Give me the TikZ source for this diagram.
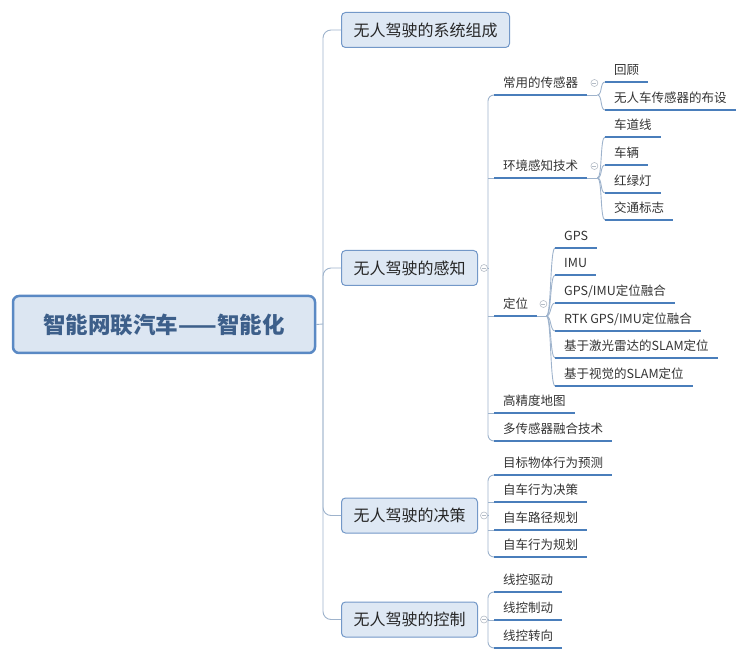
\documentclass[tikz,border=0pt]{standalone}
\usepackage{fontspec}
\setmainfont{Noto Sans CJK SC}
\usetikzlibrary{calc}
\definecolor{rootfill}{HTML}{DCE6F2}
\definecolor{rootline}{HTML}{5A89C4}
\definecolor{roottext}{HTML}{3D5F8A}
\definecolor{topicfill}{HTML}{DEE8F4}
\definecolor{topicline}{HTML}{7398C8}
\definecolor{ulinecol}{HTML}{4A7EBB}
\definecolor{linkcol}{HTML}{9EB3CC}
\definecolor{foldcol}{HTML}{B4BCC6}

\begin{document}
\begin{tikzpicture}[
        x=1pt, y=-1pt,
        root/.style={draw=rootline, line width=2.5pt, fill=rootfill, rounded corners=6pt,
            minimum width=302pt, minimum height=57pt, text=roottext,
            font=\fontsize{22.5}{27}\selectfont\bfseries},
        topic/.style={draw=topicline, line width=1pt, fill=topicfill, rounded corners=4pt,
            anchor=west, minimum height=35pt, inner xsep=12pt, text=black!85,
            font=\fontsize{16}{19}\selectfont},
        leaf/.style={anchor=south west, inner xsep=9pt, inner ysep=5pt,
            text height=10pt, text depth=2pt, text=black!80,
            font=\fontsize{12.5}{15}\selectfont},
        uline/.style={draw=ulinecol, line width=2pt},
        link/.style={draw=linkcol, line width=0.9pt},
        fold/.style={circle, draw=foldcol, line width=0.6pt, minimum size=7pt, inner sep=0pt,
            path picture={\draw[foldcol, line width=0.6pt]
                ([xshift=-2pt]path picture bounding box.center) --
                ([xshift=2pt]path picture bounding box.center);}}
    ]
    \useasboundingbox (0,0) rectangle (750,660);

    % 中心主题
    \node[root] (root) at (164,324.5) {智能网联汽车——智能化};

    % 分支主题
    \node[topic] (sys) at (341,30) {无人驾驶的系统组成};
    \node[topic] (perc) at (341,268) {无人驾驶的感知};
    \node[topic] (dec) at (341,515.5) {无人驾驶的决策};
    \node[topic] (ctrl) at (341,619.5) {无人驾驶的控制};

    \coordinate (hub) at (323,324);
    \draw[link] (root.east) -- (hub);
    \draw[link, rounded corners=8pt] (sys.west) -| (hub) |- (ctrl.west);
    \draw[link, rounded corners=8pt] (hub) |- (perc.west);
    \draw[link, rounded corners=8pt] (hub) |- (dec.west);

    % 感知
    \node[leaf] (sensors) at (494,95) {常用的传感器};
    \node[leaf] (env) at (494,178) {环境感知技术};
    \node[leaf] (loc) at (494,316) {定位};
    \node[leaf] (hdmap) at (494,413) {高精度地图};
    \node[leaf] (fusion) at (494,441) {多传感器融合技术};

    \node[fold] (percfold) at ($(perc.east)+(6,0)$) {};
    \coordinate (perchub) at (488,268);
    \draw[link] (percfold) -- (perchub);
    \draw[link, rounded corners=6pt] (sensors.south west) -| (perchub) |- (fusion.south west);
    \foreach \n in {env,loc,hdmap}
        \draw[link] (perchub |- \n.south west) -- (\n.south west);

    % 常用的传感器
    \node[leaf] (review) at (605,82) {回顾};
    \node[leaf] (layout) at (605,110) {无人车传感器的布设};
    % 环境感知技术
    \node[leaf] (lane) at (605,137) {车道线};
    \node[leaf] (vehicle) at (605,165) {车辆};
    \node[leaf] (light) at (605,193) {红绿灯};
    \node[leaf] (sign) at (605,220) {交通标志};
    % 定位
    \node[leaf] (gps) at (555,248) {GPS};
    \node[leaf] (imu) at (555,275) {IMU};
    \node[leaf] (gpsimu) at (555,303) {GPS/IMU定位融合};
    \node[leaf] (rtk) at (555,331) {RTK GPS/IMU定位融合};
    \node[leaf] (lidar) at (555,358) {基于激光雷达的SLAM定位};
    \node[leaf] (vision) at (555,386) {基于视觉的SLAM定位};

    \node[fold] (sensorsfold) at ($(sensors.south east)+(7,-12)$) {};
    \draw[link] (sensors.south east) -- ++(10,0) coordinate (sensorsfork);
    \foreach \n in {review,layout}
        \draw[link] (sensorsfork) .. controls +(5,0) and +(-5,0) .. (\n.south west);

    \node[fold] (envfold) at ($(env.south east)+(7,-12)$) {};
    \draw[link] (env.south east) -- ++(10,0) coordinate (envfork);
    \foreach \n in {lane,vehicle,light,sign}
        \draw[link] (envfork) .. controls +(5,0) and +(-5,0) .. (\n.south west);

    \node[fold] (locfold) at ($(loc.south east)+(6,-12)$) {};
    \draw[link] (loc.south east) -- ++(9,0) coordinate (locfork);
    \foreach \n in {gps,imu,gpsimu,rtk,lidar,vision}
        \draw[link] (locfork) .. controls +(5,0) and +(-5,0) .. (\n.south west);

    % 决策
    \node[leaf] (predict) at (494,475) {目标物体行为预测};
    \node[leaf] (decide) at (494,502) {自车行为决策};
    \node[leaf] (path) at (494,530) {自车路径规划};
    \node[leaf] (plan) at (494,557) {自车行为规划};

    \node[fold] (decfold) at ($(dec.east)+(6,0)$) {};
    \coordinate (dechub) at (488,515.5);
    \draw[link] (decfold) -- (dechub);
    \draw[link, rounded corners=6pt] (predict.south west) -| (dechub) |- (plan.south west);
    \foreach \n in {decide,path}
        \draw[link] (dechub |- \n.south west) -- (\n.south west);

    % 控制
    \node[leaf] (drive) at (494,592) {线控驱动};
    \node[leaf] (brake) at (494,620) {线控制动};
    \node[leaf] (steer) at (494,648) {线控转向};

    \node[fold] (ctrlfold) at ($(ctrl.east)+(6,0)$) {};
    \coordinate (ctrlhub) at (488,619.5);
    \draw[link] (ctrlfold) -- (ctrlhub);
    \draw[link, rounded corners=6pt] (drive.south west) -| (ctrlhub) |- (steer.south west);
    \draw[link] (ctrlhub |- brake.south west) -- (brake.south west);

    % 下划线
    \foreach \n in {sensors,env,loc,hdmap,fusion,review,layout,lane,vehicle,light,sign,
            gps,imu,gpsimu,rtk,lidar,vision,predict,decide,path,plan,drive,brake,steer}
        \draw[uline] (\n.south west) -- (\n.south east);

\end{tikzpicture}
\end{document}
